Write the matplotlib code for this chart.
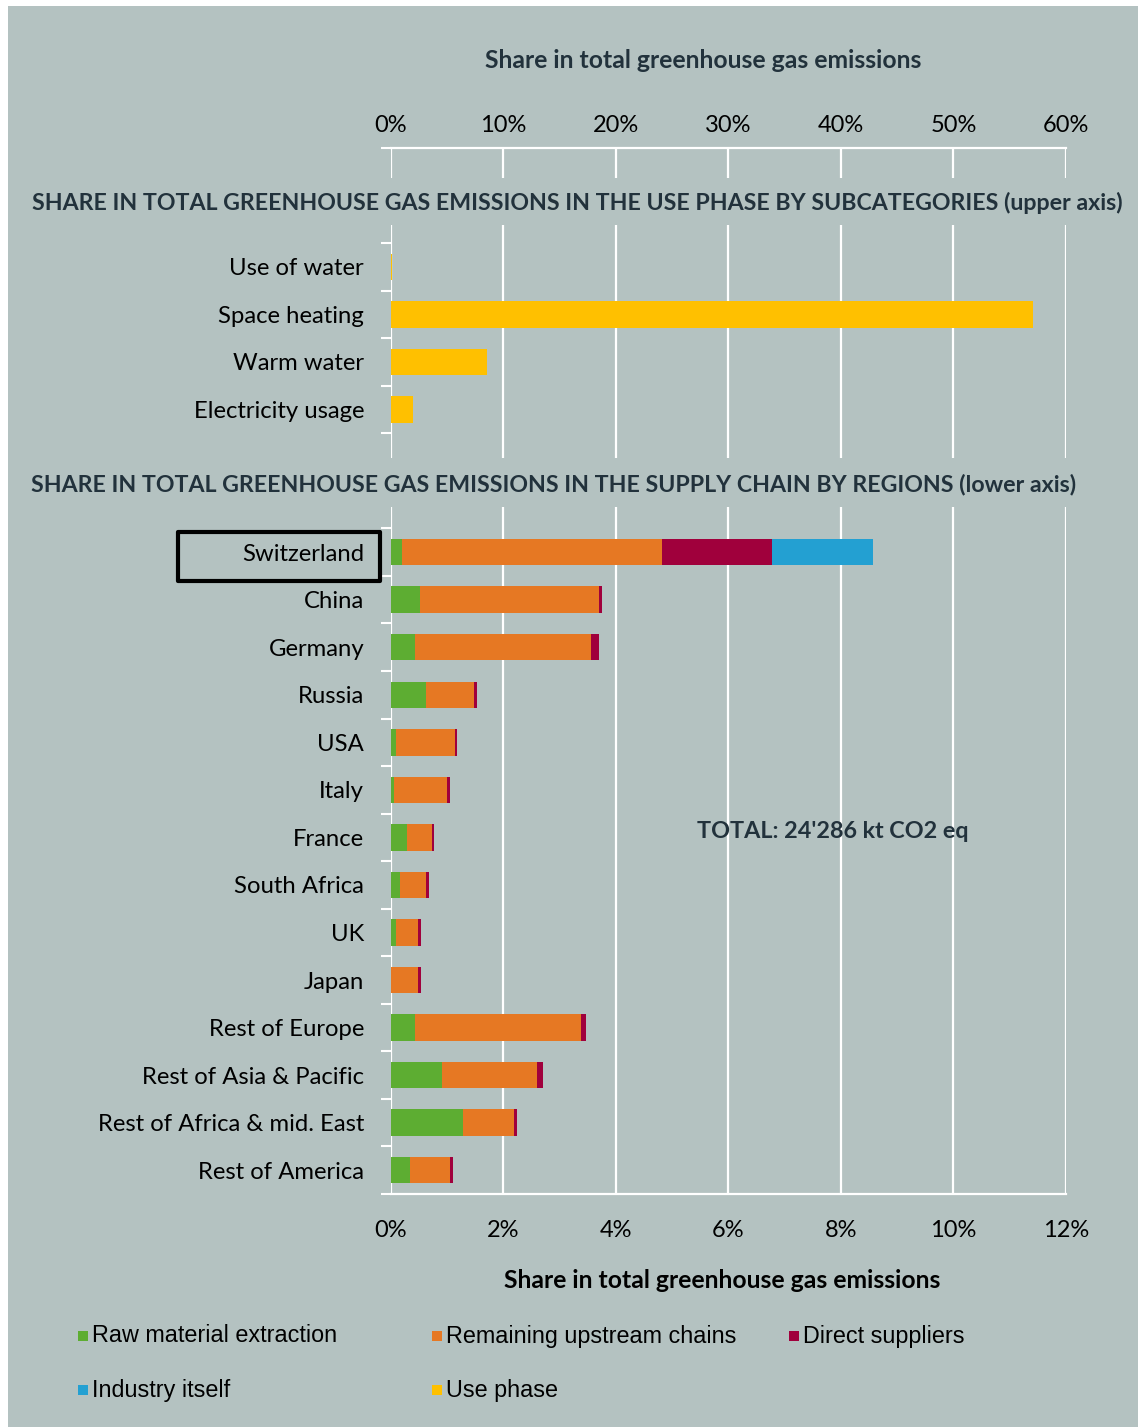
import matplotlib
matplotlib.use("Agg")
import matplotlib.pyplot as plt
from matplotlib.patches import Rectangle
from matplotlib.ticker import FuncFormatter, FixedLocator

# ===== data =====
use_cats = ["Use of water", "Space heating", "Warm water", "Electricity usage"]
use_vals = [0.15, 57.1, 8.6, 2.0]  # % of total, upper axis

regions = ["Switzerland", "China", "Germany", "Russia", "USA", "Italy", "France",
           "South Africa", "UK", "Japan", "Rest of Europe", "Rest of Asia & Pacific",
           "Rest of Africa & mid. East", "Rest of America"]
raw = [0.20, 0.52, 0.44, 0.63, 0.10, 0.06, 0.30, 0.16, 0.10, 0.01, 0.44, 0.91, 1.29, 0.34]
upstream = [4.63, 3.18, 3.13, 0.85, 1.05, 0.95, 0.43, 0.47, 0.39, 0.48, 2.94, 1.70, 0.90, 0.72]
direct = [1.94, 0.05, 0.14, 0.05, 0.04, 0.05, 0.05, 0.05, 0.05, 0.05, 0.09, 0.10, 0.05, 0.05]
industry = [1.81, 0, 0, 0, 0, 0, 0, 0, 0, 0, 0, 0, 0, 0]

lower_ticks = [0, 2, 4, 6, 8, 10, 12]
upper_ticks = [0, 10, 20, 30, 40, 50, 60]

series = [
    ("Raw material extraction", raw, "#5DAD32"),
    ("Remaining upstream chains", upstream, "#E67823"),
    ("Direct suppliers", direct, "#A0003C"),
    ("Industry itself", industry, "#23A0D2"),
]
USE_COLOR = "#FFC000"
BG = "#B4C2C1"
HEAD = "#22323C"
LABEL_FONT = "Lato"

W, H = 1138, 1427


def fx(px):
    return px / W


def fy(px):
    return 1 - px / H


fig = plt.figure(figsize=(W / 100, H / 100), dpi=100)
fig.patch.set_facecolor("white")
fig.add_artist(Rectangle((fx(8), 0), 1, fy(6), transform=fig.transFigure,
                         facecolor=BG, edgecolor="none", zorder=-1))

ax = fig.add_axes([fx(390.5), fy(1194), fx(1066) - fx(390.5), fy(148) - fy(1194)])
ax.set_facecolor(BG)
ax2 = ax.twiny()

n_up = len(use_cats)
gap = 2
y_up = list(range(n_up))
y_low = [n_up + gap + i for i in range(len(regions))]

# supply chain bars (lower axis)
left = [0.0] * len(regions)
for name, vals, color in series:
    ax.barh(y_low, vals, left=left, height=0.555, color=color, zorder=2)
    left = [a + b for a, b in zip(left, vals)]

# use phase bars (upper axis)
ax2.barh(y_up, use_vals, height=0.555, color=USE_COLOR, zorder=2)

ax.set_xlim(lower_ticks[0], lower_ticks[-1])
ax2.set_xlim(upper_ticks[0], upper_ticks[-1])
ax.set_ylim(y_low[-1] + 0.5, -2.5)

pct = FuncFormatter(lambda v, _: f"{v:.0f}%")
ax.set_xticks(lower_ticks)
ax.xaxis.set_major_formatter(pct)
ax2.set_xticks(upper_ticks)
ax2.xaxis.set_major_formatter(pct)
ax.tick_params(axis="x", length=0, pad=19, labelsize=17)
ax2.tick_params(axis="x", length=0, pad=9, labelsize=17)
for t in ax.get_xticklabels() + ax2.get_xticklabels():
    t.set_fontfamily(LABEL_FONT)

ax.set_yticks(y_up + y_low)
ax.set_yticklabels(use_cats + regions, fontfamily=LABEL_FONT, fontsize=17.2)
ax.tick_params(axis="y", which="major", length=0, pad=19)
bounds = [-2.5] + [y - 0.5 for y in y_up] + [y_up[-1] + 0.5] + \
         [y - 0.5 for y in y_low] + [y_low[-1] + 0.5]
ax.yaxis.set_minor_locator(FixedLocator(bounds))
ax.tick_params(axis="y", which="minor", length=7.5, width=1.5, color="white")

ax.set_axisbelow(True)
ax.xaxis.grid(True, color="white", linewidth=1.6)
ax.yaxis.grid(False)

# gaps in the grid behind the section headings
ax.axhspan(-1.87, -0.88, color=BG, zorder=0.8, lw=0)
ax.axhspan(4.02, 5.05, color=BG, zorder=0.8, lw=0)

for a in (ax, ax2):
    for s in a.spines.values():
        s.set_visible(False)
for s in ("top", "bottom"):
    ax.spines[s].set_visible(True)
    ax.spines[s].set_color("white")
    ax.spines[s].set_linewidth(1.6)

fig.text(fx(32), fy(203),
         "SHARE IN TOTAL GREENHOUSE GAS EMISSIONS IN THE USE PHASE BY SUBCATEGORIES (upper axis)",
         fontfamily=LABEL_FONT, fontweight="bold", fontsize=16.7, color=HEAD, va="center")
fig.text(fx(31), fy(484),
         "SHARE IN TOTAL GREENHOUSE GAS EMISSIONS IN THE SUPPLY CHAIN BY REGIONS (lower axis)",
         fontfamily=LABEL_FONT, fontweight="bold", fontsize=16.7, color=HEAD, va="center")
fig.text(fx(703), fy(60), "Share in total greenhouse gas emissions",
         fontfamily=LABEL_FONT, fontweight="bold", fontsize=17.8, color=HEAD,
         ha="center", va="center")
fig.text(fx(722), fy(1281), "Share in total greenhouse gas emissions",
         fontfamily=LABEL_FONT, fontweight="bold", fontsize=17.8, color="black",
         ha="center", va="center")
fig.text(fx(833), fy(831), "TOTAL: 24'286 kt CO2 eq",
         fontfamily=LABEL_FONT, fontweight="bold", fontsize=16.8, color=HEAD,
         ha="center", va="center")

# highlight box around the home region
fig.add_artist(Rectangle((fx(178), fy(581)), fx(380) - fx(178), fy(532) - fy(581),
                         transform=fig.transFigure, fill=False, edgecolor="black",
                         linewidth=3, joinstyle="round", zorder=5))

# legend
legend_items = [(n, c) for n, _, c in series] + [("Use phase", USE_COLOR)]
cols = [78, 432, 789]
rows = [1336, 1390]
for i, (name, color) in enumerate(legend_items):
    x = cols[i % 3]
    y = rows[i // 3]
    fig.add_artist(Rectangle((fx(x), fy(y + 5)), fx(10), 10 / H,
                             transform=fig.transFigure, facecolor=color,
                             edgecolor="none"))
    fig.text(fx(x + 14), fy(y), name, fontfamily="Liberation Sans",
             fontsize=16.8, color="black", va="center")

fig.savefig("out.png", dpi=100, facecolor=fig.get_facecolor())
